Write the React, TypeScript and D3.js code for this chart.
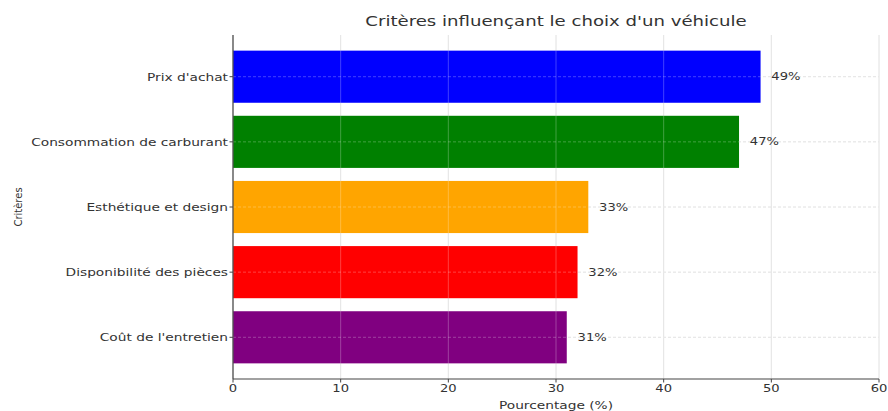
import React from "react";
import * as d3 from "d3";

const categories = [
  "Prix d'achat",
  "Consommation de carburant",
  "Esthétique et design",
  "Disponibilité des pièces",
  "Coût de l'entretien",
];
const values = [49, 47, 33, 32, 31];
const barColors = ["#0000ff", "#008000", "#ffa500", "#ff0000", "#800080"];
const xTicks = [0, 10, 20, 30, 40, 50, 60];
const title = "Critères influençant le choix d'un véhicule";
const xLabel = "Pourcentage (%)";
const yLabel = "Critères";

const W = 888;
const H = 411;
const SX = 1.25;
const FONT = "'DejaVu Sans', sans-serif";
const TXT = "#333";

const T = ({ x, y, anchor = "start", size = 11, children }: any) => (
  <text
    transform={`translate(${x},${y}) scale(${SX},1)`}
    textAnchor={anchor}
    fontSize={size}
    fontFamily={FONT}
    fill={TXT}
    dominantBaseline="central"
  >
    {children}
  </text>
);

export default function App() {
  const x = d3.scaleLinear().domain([0, 60]).range([233, 879]);
  const y = d3
    .scaleBand<string>()
    .domain(categories)
    .range([35, 379])
    .paddingInner(0.2)
    .paddingOuter(0.24);
  const [y0, y1] = y.range();
  const bw = y.bandwidth();
  const cy = (c: string) => (y(c) as number) + bw / 2;

  const grid = (stroke: string, op: number, key: string) => (
    <g key={key}>
      {xTicks.map((t) => (
        <line
          key={"gx" + t}
          x1={x(t)}
          x2={x(t)}
          y1={y0}
          y2={y1}
          stroke={stroke}
          strokeOpacity={op}
          strokeWidth={1}
        />
      ))}
      {categories.map((c) => (
        <line
          key={"gy" + c}
          x1={x(0)}
          x2={x(60)}
          y1={cy(c)}
          y2={cy(c)}
          stroke={stroke}
          strokeOpacity={op}
          strokeDasharray="3,2"
          strokeWidth={1}
        />
      ))}
    </g>
  );

  return (
    <svg
      width={W}
      height={H}
      style={{ position: "absolute", left: 0, top: 0, background: "#fff" }}
    >
      {grid("#dcdcdc", 1, "under")}
      {/* bars */}
      {categories.map((c, i) => (
        <rect
          key={c}
          x={x(0)}
          y={y(c)}
          width={x(values[i]) - x(0)}
          height={bw}
          fill={barColors[i]}
        />
      ))}
      {grid("#ffffff", 0.25, "over")}
      {/* spines */}
      <line x1={x(0)} x2={x(0)} y1={y0} y2={y1} stroke="#444" strokeWidth={1.2} />
      <line x1={x(0)} x2={x(60)} y1={y1} y2={y1} stroke="#444" strokeWidth={1.2} />
      {/* x ticks */}
      {xTicks.map((t) => (
        <g key={"tx" + t}>
          <line x1={x(t)} x2={x(t)} y1={y1} y2={y1 + 3.5} stroke="#444" />
          <T x={x(t)} y={y1 + 9.5} anchor="middle" size={10.5}>
            {t}
          </T>
        </g>
      ))}
      {/* y ticks + labels */}
      {categories.map((c) => (
        <g key={"ty" + c}>
          <line x1={x(0) - 3.5} x2={x(0)} y1={cy(c)} y2={cy(c)} stroke="#444" />
          <T x={228} y={cy(c)} anchor="end" size={11}>
            {c}
          </T>
        </g>
      ))}
      {/* value labels */}
      {categories.map((c, i) => (
        <T key={"v" + c} x={x(values[i] + 1)} y={cy(c)} size={10.5}>
          {values[i]}%
        </T>
      ))}
      {/* title */}
      <T x={(x(0) + x(60)) / 2} y={21} anchor="middle" size={14.5}>
        {title}
      </T>
      {/* axis labels */}
      <T x={(x(0) + x(60)) / 2} y={405} anchor="middle" size={11}>
        {xLabel}
      </T>
      <text
        transform={`translate(18,${(y0 + y1) / 2}) rotate(-90)`}
        textAnchor="middle"
        fontSize={10}
        fontFamily={FONT}
        fill={TXT}
        dominantBaseline="central"
      >
        {yLabel}
      </text>
    </svg>
  );
}
